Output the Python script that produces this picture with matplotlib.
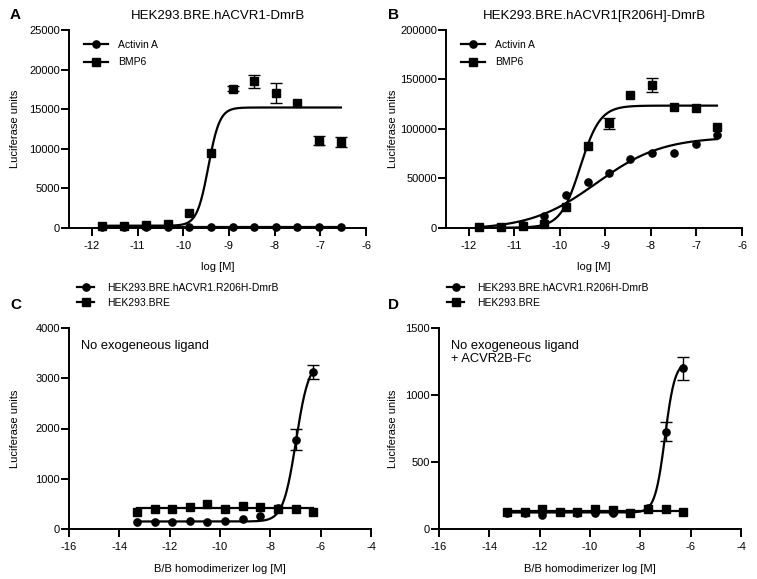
#!/usr/bin/env python

import numpy as np
import matplotlib
matplotlib.use("Agg")
import matplotlib.pyplot as plt

plt.rcParams["font.family"] = ["Liberation Sans", "DejaVu Sans"]

# Panels A and B: ligand dose response, log [M]
x_ab = [-11.77, -11.29, -10.82, -10.34, -9.87, -9.39, -8.92, -8.45, -7.97, -7.50, -7.02, -6.55]
a_activin = [130, 120, 140, 130, 150, 150, 140, 150, 140, 140, 150, 140]
a_bmp6 = [200, 200, 340, 500, 1900, 9450, 17580, 18500, 17030, 15770, 11000, 10880]
a_bmp6_err = [0, 0, 0, 0, 0, 0, 300, 850, 1300, 0, 550, 650]
b_activin = [300, 1000, 2400, 12100, 33000, 45900, 55700, 69800, 75500, 75500, 84300, 93400]
b_bmp6 = [500, 1000, 1700, 3700, 21200, 83000, 105500, 134000, 144500, 121800, 120700, 102200]
b_bmp6_err = [0, 0, 0, 0, 0, 0, 5500, 0, 7000, 0, 0, 0]

# Panels C and D: B/B homodimerizer log [M]
x_cd = [-13.3, -12.6, -11.9, -11.2, -10.5, -9.8, -9.1, -8.4, -7.7, -7.0, -6.3]
c_r206h = [140, 150, 150, 165, 150, 165, 200, 270, 430, 1780, 3120]
c_r206h_err = [0, 0, 0, 0, 0, 0, 0, 0, 0, 215, 145]
c_bre = [350, 400, 410, 440, 500, 410, 460, 450, 410, 410, 340]
d_r206h = [125, 120, 105, 128, 125, 120, 122, 125, 160, 725, 1197]
d_r206h_err = [0, 0, 0, 0, 0, 0, 0, 0, 0, 70, 85]
d_bre = [130, 130, 148, 132, 130, 152, 142, 122, 150, 152, 130]

# Fitted 4PL curves: bottom, top, logEC50, hill
fit_a_activin = [130, 130, -9.0, 1.0]
fit_a_bmp6 = [250, 15200, -9.45, 3.5]
fit_b_activin = [-2000, 92000, -9.2, 0.6]
fit_b_bmp6 = [0, 123500, -9.55, 2.0]
fit_c_r206h = [155, 3350, -6.98, 1.7]
fit_c_bre = [425, 425, -9.0, 1.0]
fit_d_r206h = [125, 1250, -7.02, 2.2]
fit_d_bre = [137, 137, -9.0, 1.0]

W, H = 757, 579


def logistic(x, bottom, top, logec50, hill):
    return bottom + (top - bottom) / (1 + 10 ** ((logec50 - x) * hill))


def add_series(ax, x, y, fit, marker, label, err=None):
    xs = np.linspace(min(x), max(x), 400)
    ax.plot(xs, logistic(xs, *fit), color="black", lw=1.6, zorder=2)
    if err is not None:
        x_arr, y_arr, e_arr = np.array(x), np.array(y), np.array(err)
        m = e_arr > 0
        ax.errorbar(x_arr[m], y_arr[m], yerr=e_arr[m], fmt="none",
                    ecolor="black", elinewidth=1.0, capsize=4, capthick=1.0,
                    zorder=3)
    ms = 5.2 if marker == "o" else 5.6
    ax.plot(x, y, marker=marker, ls="none", color="black", ms=ms,
            zorder=4, clip_on=False)
    # handle for the legend: line + marker
    ax.plot([], [], marker=marker, color="black", lw=1.6, ms=ms, label=label)


def style_axes(ax, xlim, xticks, ylim, yticks):
    ax.set_xlim(*xlim)
    ax.set_ylim(*ylim)
    ax.set_xticks(xticks)
    ax.set_yticks(yticks)
    ax.set_xticklabels([str(int(t)) for t in xticks])
    ax.set_yticklabels([str(int(t)) for t in yticks])
    for side in ["top", "right"]:
        ax.spines[side].set_visible(False)
    for side in ["left", "bottom"]:
        ax.spines[side].set_linewidth(1.4)
    ax.tick_params(axis="both", width=1.4, length=5.5, labelsize=8)
    ax.tick_params(axis="y", pad=1)
    ax.tick_params(axis="x", pad=4)


def px_axes(fig, left, right, top, bottom):
    return fig.add_axes([left / W, 1 - bottom / H, (right - left) / W, (bottom - top) / H])


fig = plt.figure(figsize=(W / 100, H / 100), dpi=100)

ax_a = px_axes(fig, 69, 366, 30, 227.7)
ax_b = px_axes(fig, 446, 742, 30, 227.7)
ax_c = px_axes(fig, 69, 371, 327.7, 529.3)
ax_d = px_axes(fig, 439, 741, 327.7, 529.3)

# A
add_series(ax_a, x_ab, a_activin, fit_a_activin, "o", "Activin A")
add_series(ax_a, x_ab, a_bmp6, fit_a_bmp6, "s", "BMP6", err=a_bmp6_err)
style_axes(ax_a, (-12.5, -6), range(-12, -5), (0, 25000), range(0, 25001, 5000))
ax_a.set_title("HEK293.BRE.hACVR1-DmrB", fontsize=9.5, pad=8)

# B
add_series(ax_b, x_ab, b_activin, fit_b_activin, "o", "Activin A")
add_series(ax_b, x_ab, b_bmp6, fit_b_bmp6, "s", "BMP6", err=b_bmp6_err)
style_axes(ax_b, (-12.5, -6), range(-12, -5), (0, 200000), range(0, 200001, 50000))
ax_b.set_title("HEK293.BRE.hACVR1[R206H]-DmrB", fontsize=9.5, pad=8)

for ax in (ax_a, ax_b):
    ax.set_xlabel("log [M]", fontsize=8, labelpad=8)
    ax.legend(loc="upper left", bbox_to_anchor=(0.05, 0.95), frameon=False,
              fontsize=7.5, handlelength=2.3, handletextpad=1.0,
              labelspacing=0.7, borderpad=0, borderaxespad=0)

# C
add_series(ax_c, x_cd, c_r206h, fit_c_r206h, "o", "HEK293.BRE.hACVR1.R206H-DmrB", err=c_r206h_err)
add_series(ax_c, x_cd, c_bre, fit_c_bre, "s", "HEK293.BRE")
style_axes(ax_c, (-16, -4), range(-16, -3, 2), (0, 4000), range(0, 4001, 1000))
ax_c.text(0.04, 0.94, "No exogeneous ligand", transform=ax_c.transAxes,
          fontsize=9.3, va="top", ha="left")

# D
add_series(ax_d, x_cd, d_r206h, fit_d_r206h, "o", "HEK293.BRE.hACVR1.R206H-DmrB", err=d_r206h_err)
add_series(ax_d, x_cd, d_bre, fit_d_bre, "s", "HEK293.BRE")
style_axes(ax_d, (-16, -4), range(-16, -3, 2), (0, 1500), range(0, 1501, 500))
ax_d.text(0.04, 0.94, "No exogeneous ligand\n+ ACVR2B-Fc", transform=ax_d.transAxes,
          fontsize=9.3, va="top", ha="left", linespacing=1.15)

for ax, left_px in ((ax_c, 77), (ax_d, 447)):
    ax.set_xlabel("B/B homodimerizer log [M]", fontsize=8, labelpad=8)
    ax.legend(loc="upper left", bbox_to_anchor=(left_px / W, 1 - 283 / H),
              bbox_transform=fig.transFigure, frameon=False,
              fontsize=7.5, handlelength=1.65, handletextpad=1.2,
              labelspacing=0.45, borderpad=0, borderaxespad=0)

# y labels, same figure x position as the reference
for ax, lx in ((ax_a, -0.165), (ax_b, -0.162), (ax_c, -0.162), (ax_d, -0.136)):
    ax.set_ylabel("Luciferase units", fontsize=8)
    ax.yaxis.set_label_coords(lx, 0.5)

# panel letters
for letter, xp, yp in (("A", 10, 8), ("B", 388, 8), ("C", 10, 298), ("D", 388, 298)):
    fig.text(xp / W, 1 - yp / H, letter, fontsize=11, fontweight="bold",
             ha="left", va="top")

fig.savefig("out.png", dpi=100)
